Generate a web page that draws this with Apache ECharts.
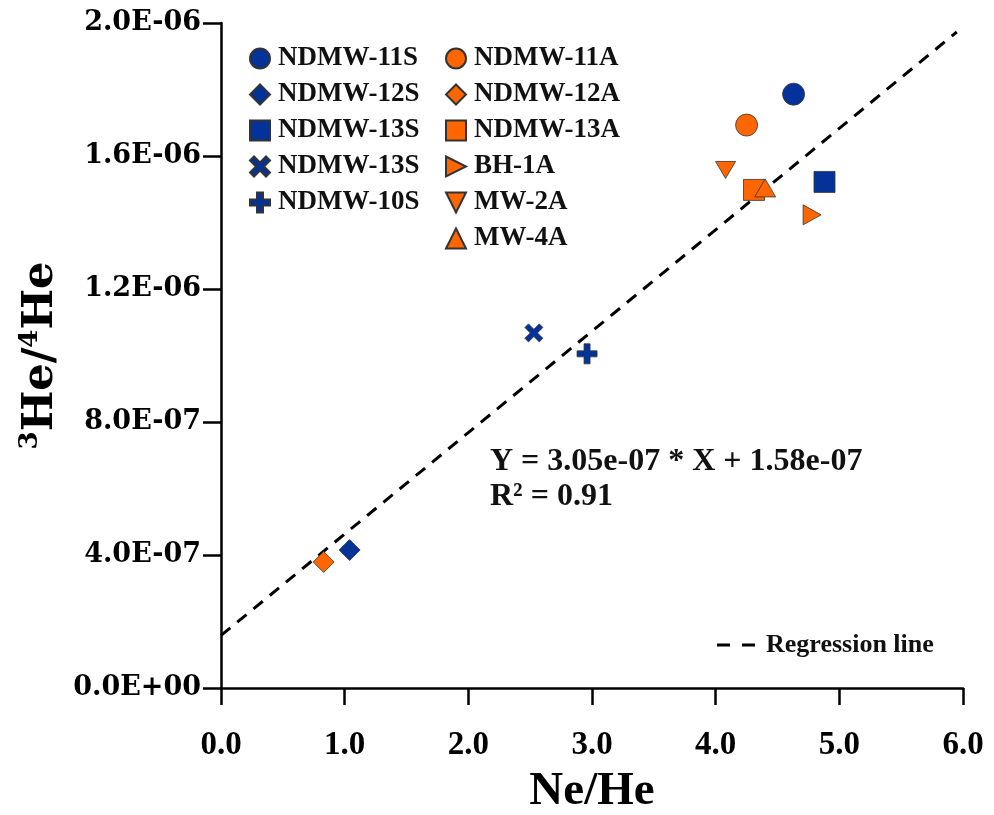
<!DOCTYPE html>
<html>
<head>
<meta charset="utf-8">
<script src="https://cdn.jsdelivr.net/npm/echarts@6/dist/echarts.min.js"></script>
<style>html,body{margin:0;padding:0;background:#fff}#c{width:994px;height:815px}</style>
</head>
<body>
<div id="c"></div>
<script>
// ---- data ----
const seriesNames = ['NDMW-11S','NDMW-12S','NDMW-13S','NDMW-13S ','NDMW-10S','NDMW-11A','NDMW-12A','NDMW-13A','BH-1A','MW-2A','MW-4A'];
const neHe   = [4.63, 1.04, 4.88, 2.53, 2.96, 4.25, 0.83, 4.31, 4.78, 4.08, 4.40];
const he3He4 = [1.786e-6, 0.415e-6, 1.522e-6, 1.068e-6, 1.005e-6, 1.693e-6, 0.379e-6, 1.498e-6, 1.423e-6, 1.558e-6, 1.504e-6];
const regressionX = [0, 5.95];
const regressionY = [1.58e-7, 1.973e-6];
const xTicks = [0,1,2,3,4,5,6];
const yTicks = [0,4e-7,8e-7,1.2e-6,1.6e-6,2e-6];

// ---- styles ----
const BLUE = '#033399', ORANGE = '#FF6600';
const X_PATH = 'path://M0,2L2,0L5,3L8,0L10,2L7,5L10,8L8,10L5,7L2,10L0,8L3,5Z';
const PLUS_PATH = 'path://M3.5,0H6.5V3.5H10V6.5H6.5V10H3.5V6.5H0V3.5H3.5Z';
const RIGHT_TRI = 'path://M0,0L10,5L0,10Z';
const DOWN_TRI = 'path://M0,0L10,0L5,10Z';
const UP_TRI = 'path://M5,0L10,10L0,10Z';
const DASH_ICON = 'path://M0,0H13V3H0Z M25,0H38V3H25Z';
const markers = [
  {sym:'circle', size:22, color:BLUE},
  {sym:'diamond', size:21, color:BLUE},
  {sym:'rect', size:21, color:BLUE},
  {sym:X_PATH, size:18, color:BLUE},
  {sym:PLUS_PATH, size:20, color:BLUE},
  {sym:'circle', size:22, color:ORANGE},
  {sym:'diamond', size:21, color:ORANGE},
  {sym:'rect', size:21, color:ORANGE},
  {sym:RIGHT_TRI, size:[18,20], color:ORANGE},
  {sym:DOWN_TRI, size:[20,17], color:ORANGE},
  {sym:UP_TRI, size:[21,18], color:ORANGE}
];

const series = seriesNames.map((n,i)=>({
  name:n, type:'scatter',
  symbol:markers[i].sym, symbolSize:markers[i].size,
  itemStyle:{color:markers[i].color, borderColor:'#333', borderWidth:0.8, opacity:1},
  data:[[neHe[i], he3He4[i]]],
  z: 3
}));
series.push({
  name:'Regression line', type:'line', symbol:'none', z:2,
  itemStyle:{color:'#000'},
  lineStyle:{color:'#000', width:3, type:[12,9]},
  data: regressionX.map((x,i)=>[x, regressionY[i]])
});

function sciFmt(v){
  const s = Number(v).toExponential(1);
  const parts = s.split('e');
  const e = parseInt(parts[1],10);
  const sign = e < 0 ? '-' : '+';
  const n = Math.abs(e);
  return parts[0] + 'E' + sign + (n<10?'0':'') + n;
}

const SERIF = '"Liberation Serif", "Times New Roman", serif';
const legendText = {fontFamily:SERIF, fontWeight:'bold', fontSize:27, color:'#111', padding:[0,0,0,3]};

const chart = echarts.init(document.getElementById('c'), null, {renderer:'canvas'});
chart.setOption({
  animation:false,
  backgroundColor:'#fff',
  grid:{left:221, right:31, top:23, bottom:127, containLabel:false, outerBoundsMode:'none'},
  xAxis:{
    type:'value', min:xTicks[0], max:xTicks[xTicks.length-1], interval:1,
    axisLine:{show:true, onZero:false, lineStyle:{color:'#000', width:2.5}},
    axisTick:{show:true, length:17, lineStyle:{color:'#000', width:2.5}},
    axisLabel:{formatter:v=>Number(v).toFixed(1), fontFamily:SERIF, fontWeight:'bold', fontSize:33, color:'#000', margin:41},
    splitLine:{show:false},
    name:'Ne/He', nameLocation:'middle', nameGap:80,
    nameTextStyle:{fontFamily:SERIF, fontWeight:'bold', fontSize:47, color:'#000'}
  },
  yAxis:{
    type:'value', min:yTicks[0], max:yTicks[yTicks.length-1], interval:4e-7,
    axisLine:{show:true, lineStyle:{color:'#000', width:2.5}},
    axisTick:{show:true, length:18, lineStyle:{color:'#000', width:2.5}},
    axisLabel:{formatter:sciFmt, fontFamily:'"DejaVu Serif", serif', fontWeight:'bold', fontSize:27, color:'#000', margin:20},
    splitLine:{show:false},
    name:'{s|3}{b|He/}{s|4}{b|He}', nameLocation:'middle', nameRotate:90, nameGap:141,
    nameTextStyle:{
      rich:{
        b:{fontFamily:'"DejaVu Serif", serif', fontWeight:'bold', fontSize:43, color:'#000', lineHeight:48},
        s:{fontFamily:'"DejaVu Serif", serif', fontWeight:'bold', fontSize:26, color:'#000', verticalAlign:'top', lineHeight:48}
      }
    }
  },
  legend:[
    {orient:'vertical', left:244, top:40, itemWidth:20, itemHeight:20, itemGap:9,
     data:seriesNames.slice(0,5), formatter:n=>n.trim(), textStyle:legendText, selectedMode:false},
    {orient:'vertical', left:440, top:40, itemWidth:20, itemHeight:20, itemGap:9,
     data:seriesNames.slice(5), formatter:n=>n.trim(), textStyle:legendText, selectedMode:false},
    {orient:'vertical', left:712, top:627, itemWidth:38, itemHeight:3, itemGap:10,
     data:[{name:'Regression line', icon:DASH_ICON, itemStyle:{color:'#000', borderWidth:0}}],
     textStyle:{fontFamily:SERIF, fontWeight:'bold', fontSize:26, color:'#111', padding:[0,0,0,6]}, selectedMode:false}
  ],
  graphic:[
    {type:'text', x:490, y:462, style:{text:'Y = 3.05e-07 * X + 1.58e-07', font:'bold 32px "Liberation Serif", serif', fill:'#111', verticalAlign:'middle'}},
    {type:'text', x:490, y:497, style:{text:'R\u00B2 = 0.91', font:'bold 32px "Liberation Serif", serif', fill:'#111', verticalAlign:'middle'}}
  ],
  series:series
});
</script>
</body>
</html>
